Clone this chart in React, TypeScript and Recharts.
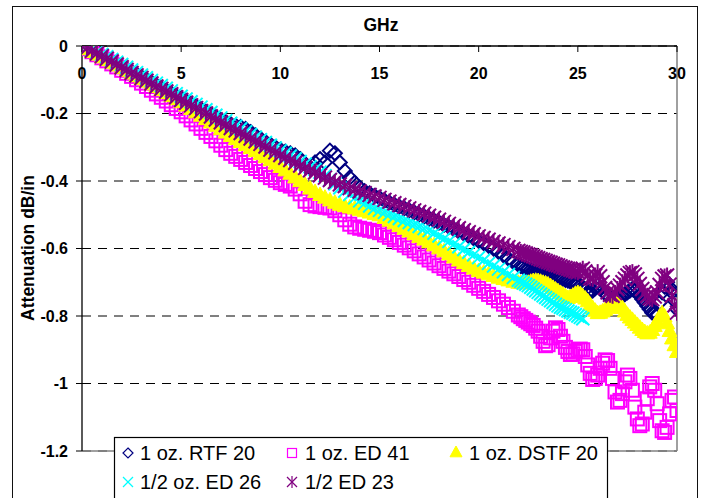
import React from "react";
import {
  CartesianGrid,
  ReferenceLine,
  Scatter,
  ScatterChart,
  XAxis,
  YAxis,
} from "recharts";

// frequency in GHz: every 0.25 GHz up to 22, then every 0.125 GHz where the curves ripple
const freq = [
  0, 0.25, 0.5, 0.75, 1, 1.25, 1.5, 1.75, 2, 2.25, 2.5, 2.75, 3, 3.25, 3.5, 3.75,
  4, 4.25, 4.5, 4.75, 5, 5.25, 5.5, 5.75, 6, 6.25, 6.5, 6.75, 7, 7.25, 7.5, 7.75,
  8, 8.25, 8.5, 8.75, 9, 9.25, 9.5, 9.75, 10, 10.25, 10.5, 10.75, 11, 11.25, 11.5, 11.75,
  12, 12.25, 12.5, 12.75, 13, 13.25, 13.5, 13.75, 14, 14.25, 14.5, 14.75, 15, 15.25, 15.5, 15.75,
  16, 16.25, 16.5, 16.75, 17, 17.25, 17.5, 17.75, 18, 18.25, 18.5, 18.75, 19, 19.25, 19.5, 19.75,
  20, 20.25, 20.5, 20.75, 21, 21.25, 21.5, 21.75, 22,
  22.125, 22.25, 22.375, 22.5, 22.625, 22.75, 22.875, 23, 23.125, 23.25, 23.375, 23.5, 23.625, 23.75, 23.875, 24,
  24.125, 24.25, 24.375, 24.5, 24.625, 24.75, 24.875, 25, 25.125, 25.25, 25.375, 25.5, 25.625, 25.75, 25.875, 26,
  26.125, 26.25, 26.375, 26.5, 26.625, 26.75, 26.875, 27, 27.125, 27.25, 27.375, 27.5, 27.625, 27.75, 27.875, 28,
  28.125, 28.25, 28.375, 28.5, 28.625, 28.75, 28.875, 29, 29.125, 29.25, 29.375, 29.5, 29.625, 29.75, 29.875, 30,
];

// attenuation dB/in
const rtf20 = [
  0, -0.005, -0.012, -0.02, -0.028, -0.036, -0.044, -0.052, -0.06, -0.068, -0.076, -0.084, -0.092, -0.1, -0.108, -0.116,
  -0.124, -0.132, -0.14, -0.148, -0.155, -0.163, -0.171, -0.179, -0.187, -0.195, -0.203, -0.211, -0.219, -0.226, -0.232, -0.236,
  -0.24, -0.246, -0.255, -0.265, -0.275, -0.284, -0.292, -0.3, -0.307, -0.313, -0.318, -0.324, -0.335, -0.35, -0.36, -0.345,
  -0.335, -0.345, -0.31, -0.318, -0.345, -0.37, -0.39, -0.405, -0.42, -0.43, -0.437, -0.444, -0.45, -0.458, -0.464, -0.47,
  -0.476, -0.481, -0.487, -0.493, -0.499, -0.505, -0.511, -0.517, -0.523, -0.53, -0.536, -0.543, -0.55, -0.556, -0.563, -0.57,
  -0.577, -0.584, -0.592, -0.6, -0.61, -0.62, -0.63, -0.64, -0.648,
  -0.652, -0.655, -0.658, -0.66, -0.663, -0.665, -0.667, -0.668, -0.67, -0.672, -0.674, -0.676, -0.678, -0.68, -0.683, -0.685,
  -0.688, -0.69, -0.693, -0.695, -0.698, -0.7, -0.703, -0.705, -0.71, -0.715, -0.722, -0.73, -0.728, -0.725, -0.717, -0.71,
  -0.717, -0.725, -0.733, -0.74, -0.745, -0.75, -0.75, -0.75, -0.745, -0.74, -0.735, -0.73, -0.725, -0.72, -0.725, -0.73,
  -0.74, -0.75, -0.76, -0.77, -0.78, -0.79, -0.793, -0.795, -0.76, -0.73, -0.713, -0.7, -0.715, -0.73, -0.755, -0.78,
];

const ed41 = [
  0, -0.008, -0.017, -0.026, -0.035, -0.044, -0.053, -0.062, -0.072, -0.081, -0.09, -0.1, -0.11, -0.12, -0.131, -0.142,
  -0.152, -0.163, -0.174, -0.185, -0.195, -0.207, -0.219, -0.231, -0.244, -0.256, -0.268, -0.281, -0.294, -0.307, -0.318, -0.327,
  -0.336, -0.345, -0.354, -0.363, -0.372, -0.381, -0.39, -0.398, -0.405, -0.41, -0.415, -0.424, -0.438, -0.46, -0.47, -0.474,
  -0.476, -0.478, -0.48, -0.488, -0.5, -0.515, -0.528, -0.536, -0.54, -0.543, -0.546, -0.549, -0.553, -0.56, -0.567, -0.574,
  -0.582, -0.59, -0.598, -0.607, -0.616, -0.625, -0.634, -0.643, -0.651, -0.659, -0.667, -0.675, -0.683, -0.692, -0.7, -0.709,
  -0.718, -0.727, -0.736, -0.745, -0.755, -0.765, -0.775, -0.786, -0.797,
  -0.802, -0.808, -0.813, -0.818, -0.823, -0.828, -0.836, -0.845, -0.86, -0.875, -0.888, -0.885, -0.865, -0.845, -0.835, -0.84,
  -0.86, -0.875, -0.893, -0.905, -0.914, -0.912, -0.905, -0.9, -0.898, -0.9, -0.92, -0.945, -0.97, -0.988, -0.985, -0.975,
  -0.955, -0.94, -0.93, -0.932, -0.955, -0.985, -1.025, -1.055, -1.05, -1.03, -0.995, -0.975, -0.985, -1.02, -1.07, -1.105,
  -1.125, -1.12, -1.085, -1.045, -1.01, -1.0, -1.02, -1.06, -1.11, -1.14, -1.145, -1.13, -1.09, -1.05, -1.04, -1.08,
];

const dstf20 = [
  0, -0.008, -0.016, -0.024, -0.032, -0.04, -0.048, -0.056, -0.064, -0.072, -0.08, -0.088, -0.096, -0.104, -0.112, -0.12,
  -0.129, -0.138, -0.147, -0.156, -0.165, -0.175, -0.185, -0.195, -0.205, -0.215, -0.225, -0.235, -0.245, -0.255, -0.265, -0.274,
  -0.283, -0.292, -0.301, -0.31, -0.319, -0.328, -0.337, -0.347, -0.357, -0.367, -0.377, -0.388, -0.399, -0.41, -0.421, -0.431,
  -0.44, -0.448, -0.456, -0.463, -0.469, -0.473, -0.477, -0.48, -0.484, -0.488, -0.492, -0.496, -0.5, -0.508, -0.516, -0.524,
  -0.532, -0.54, -0.548, -0.556, -0.564, -0.572, -0.58, -0.589, -0.598, -0.607, -0.616, -0.625, -0.634, -0.642, -0.65, -0.658,
  -0.665, -0.67, -0.675, -0.68, -0.685, -0.689, -0.693, -0.697, -0.7,
  -0.701, -0.702, -0.701, -0.7, -0.697, -0.695, -0.694, -0.695, -0.697, -0.7, -0.702, -0.705, -0.71, -0.715, -0.72, -0.725,
  -0.73, -0.735, -0.74, -0.745, -0.742, -0.738, -0.733, -0.73, -0.733, -0.74, -0.747, -0.755, -0.765, -0.775, -0.783, -0.79,
  -0.789, -0.785, -0.78, -0.775, -0.77, -0.765, -0.762, -0.76, -0.766, -0.775, -0.785, -0.795, -0.803, -0.81, -0.818, -0.825,
  -0.833, -0.84, -0.846, -0.85, -0.848, -0.84, -0.828, -0.815, -0.8, -0.79, -0.8, -0.82, -0.843, -0.865, -0.885, -0.905,
];

// stops at 25.25 GHz
const ed26 = [
  0, -0.004, -0.011, -0.018, -0.025, -0.032, -0.04, -0.048, -0.055, -0.063, -0.071, -0.079, -0.086, -0.094, -0.102, -0.11,
  -0.117, -0.125, -0.133, -0.141, -0.149, -0.157, -0.165, -0.173, -0.181, -0.189, -0.197, -0.205, -0.213, -0.221, -0.229, -0.237,
  -0.245, -0.254, -0.262, -0.27, -0.278, -0.286, -0.294, -0.302, -0.31, -0.318, -0.326, -0.334, -0.342, -0.35, -0.358, -0.366,
  -0.374, -0.384, -0.396, -0.408, -0.42, -0.43, -0.44, -0.45, -0.459, -0.466, -0.474, -0.481, -0.487, -0.493, -0.499, -0.505,
  -0.511, -0.517, -0.523, -0.529, -0.535, -0.541, -0.547, -0.555, -0.563, -0.571, -0.579, -0.587, -0.595, -0.603, -0.611, -0.619,
  -0.627, -0.635, -0.644, -0.652, -0.661, -0.669, -0.677, -0.686, -0.694,
  -0.698, -0.702, -0.706, -0.71, -0.715, -0.72, -0.725, -0.73, -0.735, -0.74, -0.745, -0.75, -0.755, -0.76, -0.765, -0.77,
  -0.774, -0.777, -0.781, -0.785, -0.789, -0.792, -0.796, -0.8, -0.804, -0.808,
];

const ed23 = [
  0, -0.006, -0.014, -0.022, -0.03, -0.038, -0.046, -0.055, -0.063, -0.071, -0.08, -0.087, -0.095, -0.103, -0.111, -0.12,
  -0.127, -0.135, -0.143, -0.152, -0.16, -0.168, -0.176, -0.184, -0.193, -0.2, -0.209, -0.218, -0.226, -0.234, -0.243, -0.25,
  -0.258, -0.266, -0.274, -0.282, -0.29, -0.298, -0.307, -0.315, -0.323, -0.331, -0.338, -0.346, -0.354, -0.361, -0.368, -0.375,
  -0.383, -0.39, -0.397, -0.403, -0.41, -0.415, -0.421, -0.426, -0.431, -0.436, -0.441, -0.446, -0.45, -0.456, -0.461, -0.466,
  -0.471, -0.476, -0.481, -0.487, -0.492, -0.497, -0.503, -0.509, -0.515, -0.521, -0.527, -0.533, -0.54, -0.546, -0.552, -0.558,
  -0.564, -0.569, -0.574, -0.58, -0.585, -0.59, -0.596, -0.601, -0.607,
  -0.61, -0.612, -0.615, -0.618, -0.62, -0.623, -0.626, -0.629, -0.632, -0.634, -0.637, -0.64, -0.642, -0.645, -0.648, -0.65,
  -0.653, -0.656, -0.658, -0.66, -0.663, -0.665, -0.668, -0.67, -0.665, -0.66, -0.668, -0.68, -0.688, -0.69, -0.68, -0.67,
  -0.682, -0.7, -0.717, -0.73, -0.737, -0.74, -0.732, -0.72, -0.71, -0.7, -0.69, -0.68, -0.673, -0.67, -0.677, -0.69,
  -0.705, -0.72, -0.732, -0.74, -0.747, -0.75, -0.742, -0.73, -0.708, -0.69, -0.683, -0.68, -0.707, -0.74, -0.768, -0.79,
];

const xTicks = [0, 5, 10, 15, 20, 25, 30];
const yTicks = [0, -0.2, -0.4, -0.6, -0.8, -1, -1.2];

const FONT = '"Liberation Sans", Arial, sans-serif';

const NAVY = "#000080";
const MAGENTA = "#FF00FF";
const YELLOW = "#FFFF00";
const CYAN = "#00FFFF";
const PURPLE = "#800080";

const pts = (vals: number[]) => vals.map((y, i) => ({ x: freq[i], y }));

function Diamond({ cx, cy, r = 7, w = 2 }: any) {
  return (
    <polygon
      points={`${cx},${cy - r} ${cx + r},${cy} ${cx},${cy + r} ${cx - r},${cy}`}
      fill="none"
      stroke={NAVY}
      strokeWidth={w}
    />
  );
}

function Square({ cx, cy, r = 6.5, w = 2 }: any) {
  return (
    <rect x={cx - r} y={cy - r} width={r * 2} height={r * 2} fill="none" stroke={MAGENTA} strokeWidth={w} />
  );
}

function Triangle({ cx, cy, r = 7.5 }: any) {
  return (
    <polygon
      points={`${cx},${cy - r} ${cx + r},${cy + r * 0.8} ${cx - r},${cy + r * 0.8}`}
      fill={YELLOW}
      stroke={YELLOW}
    />
  );
}

function Cross({ cx, cy, r = 6.5, w = 2 }: any) {
  return (
    <g stroke={CYAN} strokeWidth={w}>
      <line x1={cx - r} y1={cy - r} x2={cx + r} y2={cy + r} />
      <line x1={cx - r} y1={cy + r} x2={cx + r} y2={cy - r} />
    </g>
  );
}

function Star({ cx, cy, r = 7, w = 2 }: any) {
  return (
    <g stroke={PURPLE} strokeWidth={w}>
      <line x1={cx - r} y1={cy - r} x2={cx + r} y2={cy + r} />
      <line x1={cx - r} y1={cy + r} x2={cx + r} y2={cy - r} />
      <line x1={cx} y1={cy - r - 1} x2={cx} y2={cy + r + 1} />
    </g>
  );
}

const tickStyle = { fontSize: 16, fontWeight: "bold", fill: "#000", fontFamily: FONT };

function LegendBox() {
  const row1 = 16;
  const row2 = 45;
  const txt = { fontSize: 20, fontFamily: FONT, fill: "#000" };
  return (
    <svg
      width={494}
      height={61}
      style={{ position: "absolute", left: 114, top: 437, overflow: "visible" }}
    >
      <rect x={0.5} y={0.5} width={493} height={70} fill="#fff" stroke="#000" strokeWidth={1.2} />
      <Diamond cx={14} cy={row1} r={5} w={1.2} />
      <text x={26} y={row1 + 7} {...txt}>1 oz. RTF 20</text>
      <Square cx={178} cy={row1} r={4.5} w={1.2} />
      <text x={191} y={row1 + 7} {...txt}>1 oz. ED 41</text>
      <Triangle cx={342} cy={row1 - 1} r={6} />
      <text x={355} y={row1 + 7} {...txt}>1 oz. DSTF 20</text>
      <Cross cx={14} cy={row2} r={5} w={1.2} />
      <text x={26} y={row2 + 7} {...txt}>1/2 oz. ED 26</text>
      <Star cx={178} cy={row2} r={5} w={1.2} />
      <text x={191} y={row2 + 7} {...txt}>1/2 ED 23</text>
    </svg>
  );
}

export default function App() {
  return (
    <div
      style={{
        position: "absolute",
        left: 0,
        top: 0,
        width: 706,
        height: 498,
        background: "#fff",
        overflow: "hidden",
      }}
    >
      <div
        style={{
          position: "absolute",
          left: 12,
          top: 6,
          width: 684,
          height: 510,
          border: "1.5px solid #111",
        }}
      />
      <ScatterChart
        width={706}
        height={498}
        margin={{ top: 46, right: 29, bottom: 47, left: 12 }}
        style={{ position: "absolute", left: 0, top: 0 }}
      >
        <CartesianGrid horizontal vertical={false} stroke="#000" strokeDasharray="9 7" />
        <ReferenceLine x={30} stroke="#808080" strokeWidth={1.5} />
        <ReferenceLine y={-1.2} stroke="#808080" strokeWidth={1.5} />
        <XAxis
          type="number"
          dataKey="x"
          domain={[0, 30]}
          ticks={xTicks}
          orientation="top"
          mirror
          allowDataOverflow
          tickSize={6}
          tickMargin={16}
          axisLine={{ stroke: "#000", strokeWidth: 1.3 }}
          tickLine={{ stroke: "#000" }}
          tick={tickStyle}
          label={{
            content: () => (
              <text x={381} y={31} textAnchor="middle" fontSize={17.5} fontWeight="bold" fontFamily={FONT} fill="#000">
                GHz
              </text>
            ),
          }}
        />
        <YAxis
          type="number"
          dataKey="y"
          domain={[-1.2, 0]}
          ticks={yTicks}
          allowDataOverflow
          width={70}
          tickSize={6}
          tickMargin={8}
          axisLine={{ stroke: "#000", strokeWidth: 1.3 }}
          tickLine={{ stroke: "#000" }}
          tick={tickStyle}
          label={{
            content: () => (
              <text
                x={34}
                y={248}
                transform="rotate(-90 34 248)"
                textAnchor="middle"
                fontSize={17.5}
                fontWeight="bold"
                fontFamily={FONT}
                fill="#000"
              >
                Attenuation dB/in
              </text>
            ),
          }}
        />
        <Scatter name="1 oz. RTF 20" data={pts(rtf20)} isAnimationActive={false} shape={(p: any) => <Diamond cx={p.cx} cy={p.cy} />} />
        <Scatter name="1 oz. ED 41" data={pts(ed41)} isAnimationActive={false} shape={(p: any) => <Square cx={p.cx} cy={p.cy} />} />
        <Scatter name="1 oz. DSTF 20" data={pts(dstf20)} isAnimationActive={false} shape={(p: any) => <Triangle cx={p.cx} cy={p.cy} />} />
        <Scatter name="1/2 oz. ED 26" data={pts(ed26)} isAnimationActive={false} shape={(p: any) => <Cross cx={p.cx} cy={p.cy} />} />
        <Scatter name="1/2 ED 23" data={pts(ed23)} isAnimationActive={false} shape={(p: any) => <Star cx={p.cx} cy={p.cy} />} />
      </ScatterChart>
      <LegendBox />
    </div>
  );
}
